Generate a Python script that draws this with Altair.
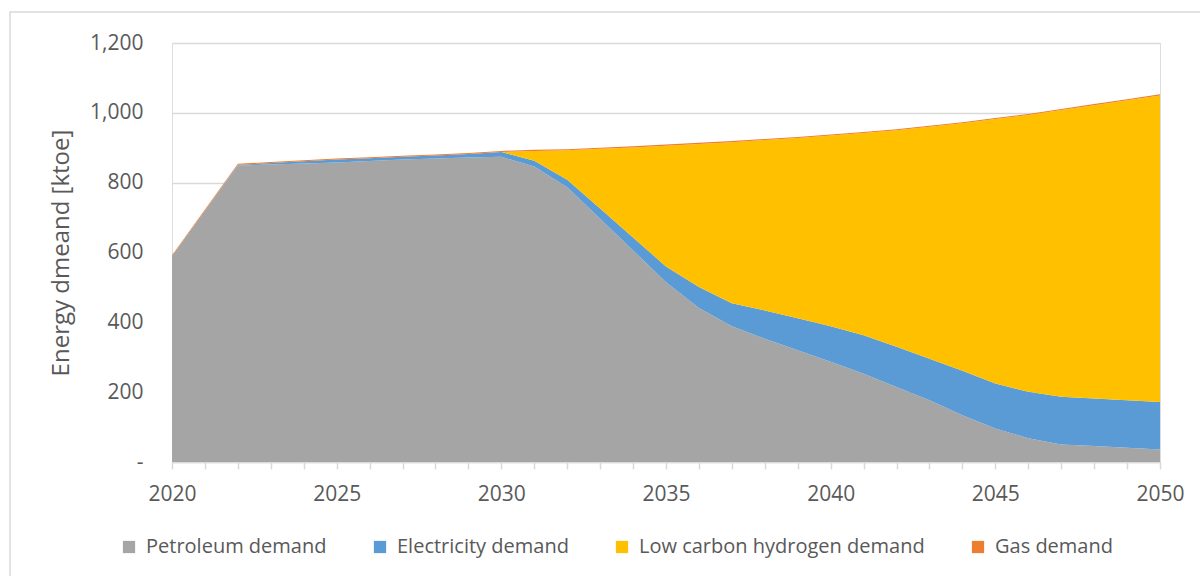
import altair as alt
import pandas as pd

years = list(range(2020, 2051))

petroleum = [590, 720, 849, 852, 855, 858, 862, 866, 869, 872, 874, 846, 787, 697, 606,
             515, 441, 389, 353, 320, 287, 253, 215, 177, 134, 96, 68, 50, 46, 41, 36]
electricity = [0, 0, 2, 4, 6, 8, 8, 8, 9, 10, 14, 17, 21, 29, 37,
               45, 60, 66, 81, 92, 102, 110, 115, 119, 127, 129, 133, 137, 136, 136, 136]
hydrogen = [0, 0, 0, 0, 0, 0, 0, 0, 0, 0, 0, 28, 85, 171, 258,
            346, 410, 461, 488, 516, 546, 579, 620, 664, 709, 757, 793, 821, 840, 859, 878]
gas = [2, 3, 3, 3, 3, 3, 3, 3, 3, 3, 3, 3, 3, 3, 3,
       3, 3, 3, 3, 3, 3, 3, 3, 3, 3, 3, 3, 3, 3, 3, 3]

series_names = ["Petroleum demand", "Electricity demand",
                "Low carbon hydrogen demand", "Gas demand"]
series_colors = ["#A5A5A5", "#5B9BD5", "#FFC000", "#ED7D31"]

rows = []
for idx, (name, vals) in enumerate(zip(series_names, [petroleum, electricity, hydrogen, gas])):
    for yr, v in zip(years, vals):
        rows.append({"year": yr, "series": name, "value": v, "order": idx})
df = pd.DataFrame(rows)

FONT = "Open Sans"
TXT = "#595959"
GRID = "#D9D9D9"

areas = alt.Chart(df).mark_area(interpolate="linear").encode(
    x=alt.X("year:Q",
            scale=alt.Scale(domain=[2020, 2050], nice=False, zero=False),
            axis=alt.Axis(values=years, title=None, grid=False,
                          labelExpr="datum.value % 5 === 0 ? format(datum.value, 'd') : ''",
                          labelFont=FONT, labelFontSize=21, labelColor=TXT,
                          labelPadding=14, labelOverlap=False, labelFlush=False,
                          tickColor=GRID, tickSize=7, tickWidth=1.5,
                          domainColor=GRID, domainWidth=1.5)),
    y=alt.Y("value:Q", stack="zero",
            scale=alt.Scale(domain=[0, 1200], nice=False),
            axis=alt.Axis(values=[0, 200, 400, 600, 800, 1000, 1200],
                          title="Energy dmeand [ktoe]",
                          titleFont=FONT, titleFontSize=24, titleColor=TXT,
                          titleFontWeight="normal", titlePadding=16,
                          labelExpr="datum.value === 0 ? '-' : format(datum.value, ',')",
                          labelFont=FONT, labelFontSize=21, labelColor=TXT,
                          labelPadding=29, ticks=False, domain=False,
                          grid=True, gridColor=GRID, gridWidth=1.5)),
    color=alt.Color("series:N",
                    scale=alt.Scale(domain=series_names, range=series_colors),
                    legend=alt.Legend(title=None, orient="none", direction="horizontal",
                                      legendX=-53, legendY=494,
                                      symbolType="square", symbolSize=150,
                                      symbolStrokeWidth=0, labelOffset=7,
                                      labelFont=FONT, labelFontSize=20,
                                      labelColor=TXT, columnPadding=43,
                                      labelLimit=400)),
    order=alt.Order("order:Q", sort="ascending"),
)

frame_df = pd.DataFrame({"k": [0]})
frame = alt.Chart(frame_df).mark_rect(filled=False, stroke=GRID, strokeWidth=1.5).encode(
    x=alt.value(-162), x2=alt.value(1040), y=alt.value(-31), y2=alt.value(560)
)

chart = alt.layer(frame, areas).properties(
    width=988, height=419,
    autosize=alt.AutoSizeParams(type="none"),
    padding={"left": 172, "top": 43, "right": 40, "bottom": 114},
).configure_view(stroke=None).configure(background="white")

chart.save("out.html", embed_options={"renderer": "svg", "actions": False})
